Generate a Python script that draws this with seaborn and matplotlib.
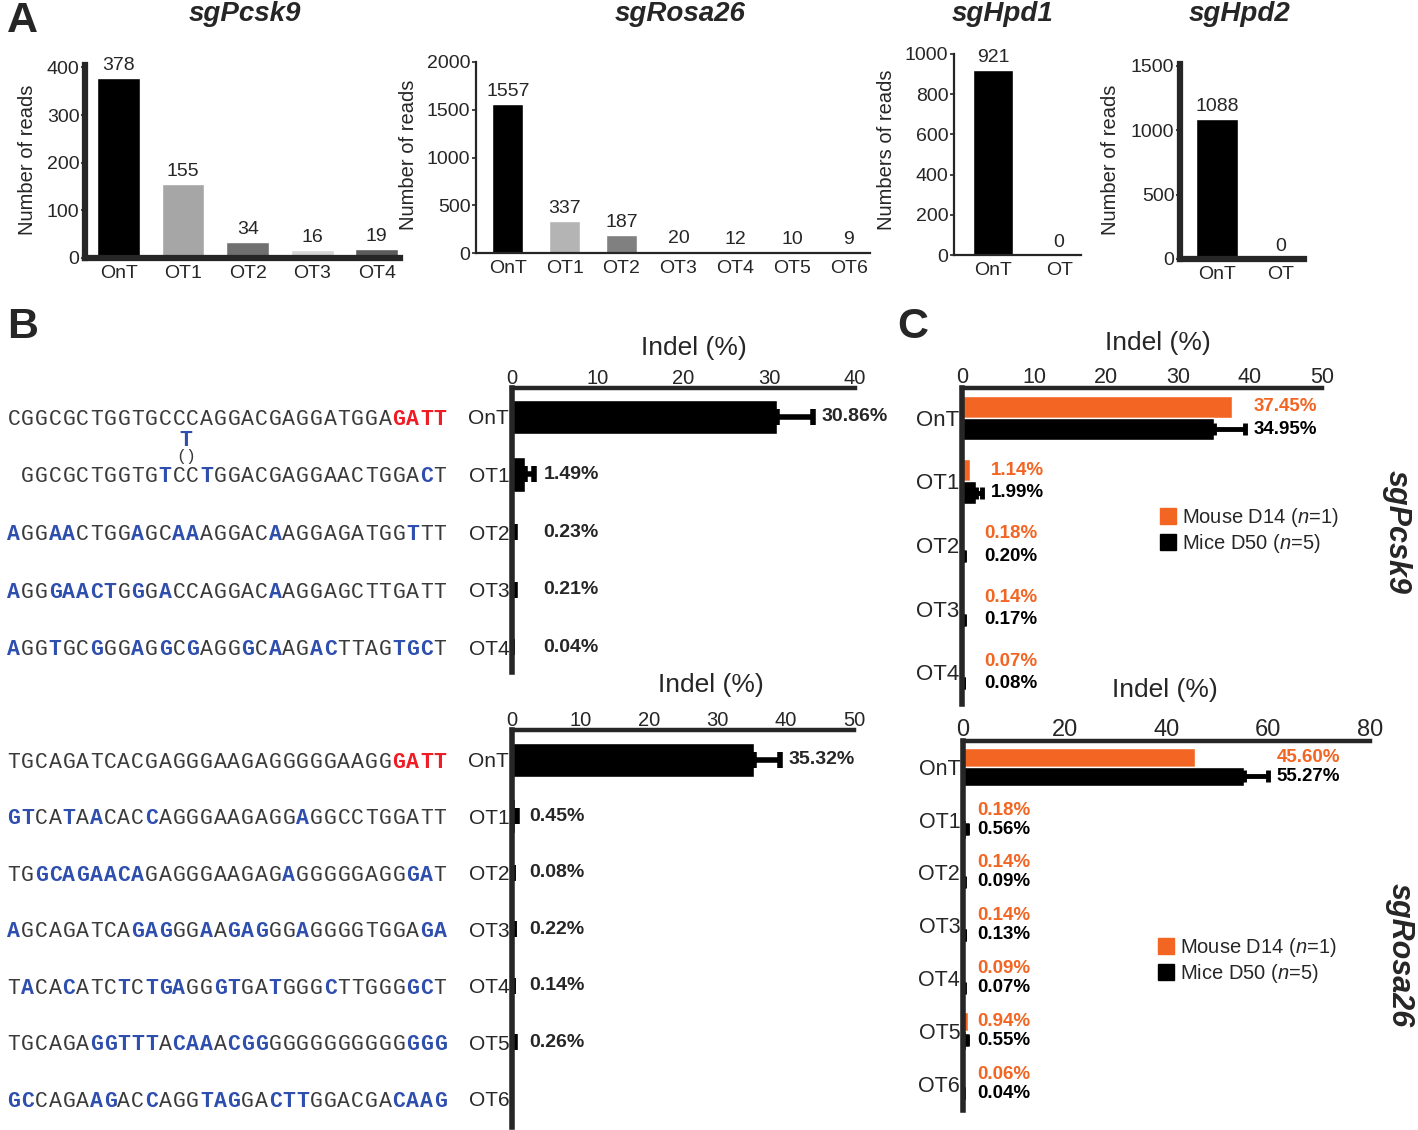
import numpy as np
import pandas as pd
import seaborn as sns
import matplotlib.pyplot as plt
from matplotlib import transforms
from matplotlib.lines import Line2D

W, H = 1418, 1130

# ---- A: number of reads per site
pcsk9_sites = ["OnT", "OT1", "OT2", "OT3", "OT4"]
pcsk9_reads = [378, 155, 34, 16, 19]
pcsk9_colors = ["#000000", "#a6a6a6", "#707070", "#d6d6d6", "#5c5c5c"]

rosa_sites = ["OnT", "OT1", "OT2", "OT3", "OT4", "OT5", "OT6"]
rosa_reads = [1557, 337, 187, 20, 12, 10, 9]
rosa_colors = ["#000000", "#b4b4b4", "#808080", "#9a9a9a", "#9a9a9a", "#9a9a9a", "#9a9a9a"]

hpd_sites = ["OnT", "OT"]
hpd1_reads = [921, 0]
hpd2_reads = [1088, 0]

# ---- B: indel % per site (mean, upper error)
pcsk9_indel = [30.86, 1.49, 0.23, 0.21, 0.04]
pcsk9_indel_err = [4.3, 1.1, 0.1, 0.1, 0.0]
rosa_indel = [35.32, 0.45, 0.08, 0.22, 0.14, 0.26, np.nan]
rosa_indel_err = [3.9, 0.25, 0.05, 0.1, 0.05, 0.15, np.nan]

# target sequences, lower case = PAM (OnT row) or mismatched base
pcsk9_seqs = [
    "CGGCGCTGGTGCCCAGGACGAGGATGGAgatt",
    " GGCGCTGGTGtCCtGGACGAGGAACTGGAcT",
    "aGGaaCTGGaGCaaAGGACaAGGAGATGGtTT",
    "aGGgaactGgGaCCAGGACaAGGAGCTTGATT",
    "aGGtGCgGGaGgCgAGGgCaAGacTTAGtgcT",
]
rosa_seqs = [
    "TGCAGATCACGAGGGAAGAGGGGGAAGGgatt",
    "gtCAtAaCACcAGGGAAGAGGaGGCCTGGATT",
    "TGgcagaacaGAGGGAAGAGaGGGGGAGGgaT",
    "aGCAGATCAgagGGaAgagGGaGGGGTGGAga",
    "TaCAcATCtCtgaGGgtGAtGGGcTTGGGgcT",
    "TGCAGAggtttAcaaAcggGGGGGGGGGGggg",
    "gcCAGAagACcAGGtagGActtGGACGAcaag",
]

# ---- C: indel % D14 (n=1) vs D50 (n=5)
groups = ["Mouse D14", "Mice D50"]
pcsk9_d14 = [37.45, 1.14, 0.18, 0.14, 0.07]
pcsk9_d50 = [34.95, 1.99, 0.20, 0.17, 0.08]
pcsk9_d50_err = [4.4, 0.8, 0.1, 0.05, 0.02]
rosa_d14 = [45.60, 0.18, 0.14, 0.14, 0.09, 0.94, 0.06]
rosa_d50 = [55.27, 0.56, 0.09, 0.13, 0.07, 0.55, 0.04]
rosa_d50_err = [4.7, 0.3, 0.05, 0.05, 0.03, 0.3, 0.02]

ORANGE = "#f26522"
BLUE = "#2f4fae"
RED = "#ee1c24"
SEQ_GREY = "#3a3a3a"

sns.set_style("ticks")
plt.rcParams["font.family"] = ["Liberation Sans", "DejaVu Sans"]
plt.rcParams["mathtext.fontset"] = "custom"
plt.rcParams["mathtext.rm"] = "Liberation Sans"
plt.rcParams["mathtext.it"] = "Liberation Sans:italic"

fig = plt.figure(figsize=(W / 100, H / 100), dpi=100)


def px_axes(l, t, r, b):
    return fig.add_axes([l / W, 1 - b / H, (r - l) / W, (b - t) / H])


def ftext(x, y, s, **kw):
    fig.text(x / W, 1 - y / H, s, **kw)


def reads_panel(box, sites, reads, colors, ymax, ystep, xlim, width, lw):
    ax = px_axes(*box)
    df = pd.DataFrame({"site": sites, "reads": reads})
    sns.barplot(data=df, x="site", y="reads", hue="site", palette=colors, width=width,
                saturation=1, errorbar=None, legend=False, ax=ax)
    for i, v in enumerate(reads):
        ax.annotate(str(v), (i, v), xytext=(0, 3), textcoords="offset points",
                    ha="center", va="bottom", fontsize=14)
    ax.set_xlim(*xlim)
    ax.set_ylim(0, ymax)
    ax.set_yticks(np.arange(0, ymax + 1, ystep))
    ax.set_xlabel("")
    ax.set_ylabel("")
    sns.despine(ax=ax)
    for s in ["left", "bottom"]:
        ax.spines[s].set_linewidth(lw)
    ax.tick_params(axis="y", length=3, width=1.2, pad=1, labelsize=14)
    ax.tick_params(axis="x", length=0, pad=5, labelsize=14)
    return ax


reads_panel((85, 65, 400, 258), pcsk9_sites, pcsk9_reads, pcsk9_colors, 405, 100,
            (-0.52, 4.36), 0.66, 4.5)
reads_panel((476, 62, 870, 253), rosa_sites, rosa_reads, rosa_colors, 2000, 500,
            (-0.56, 6.37), 0.55, 1.6)
reads_panel((954, 54, 1081, 255), hpd_sites, hpd1_reads, ["black", "black"], 1000, 200,
            (-0.59, 1.33), 0.6, 1.6)
reads_panel((1180, 64, 1304, 259), hpd_sites, hpd2_reads, ["black", "black"], 1515, 500,
            (-0.58, 1.36), 0.67, 4.5)

title_kw = dict(fontsize=20, fontweight="bold", style="italic", ha="center", va="center")
ftext(245, 14, "sgPcsk9", **title_kw)
ftext(680, 14, "sgRosa26", **title_kw)
ftext(1003, 14, "sgHpd1", **title_kw)
ftext(1240, 14, "sgHpd2", **title_kw)

ylab_kw = dict(fontsize=14.5, rotation=90, ha="center", va="center")
ftext(28, 160, "Number of reads", **ylab_kw)
ftext(408, 155, "Number of reads", **ylab_kw)
ftext(887, 150, "Numbers of reads", **ylab_kw)
ftext(1110, 160, "Number of reads", **ylab_kw)


def style_hbar(ax, xlim, xticks, ylim, tick_size, cat_size):
    ax.set_xlim(*xlim)
    ax.set_xticks(xticks)
    ax.set_ylim(*ylim)
    ax.xaxis.tick_top()
    ax.set_xlabel("")
    ax.set_ylabel("")
    for s in ["right", "bottom"]:
        ax.spines[s].set_visible(False)
    ax.spines["left"].set_linewidth(4)
    ax.spines["top"].set_linewidth(3.2)
    ax.tick_params(axis="x", length=0, pad=0, labelsize=tick_size)
    ax.tick_params(axis="y", length=0, pad=2, labelsize=cat_size)


def seq_rows(ax, seqs, x0=7, step=13.75):
    trans = transforms.blended_transform_factory(fig.transFigure, ax.transData)
    for row, seq in enumerate(seqs):
        hl_color = RED if row == 0 else BLUE
        for j, ch in enumerate(seq):
            if ch == " ":
                continue
            hl = ch.islower()
            ax.text((x0 + (j + 0.5) * step) / W, row, ch.upper(), transform=trans,
                    ha="center", va="center_baseline", family="Liberation Mono", fontsize=15.5,
                    fontweight="bold" if hl else "normal",
                    color=hl_color if hl else SEQ_GREY)


def indel_panel(box, sites, vals, errs, xlim, xticks, ylim, min_x, seqs):
    ax = px_axes(*box)
    df = pd.DataFrame({"site": sites, "indel": vals})
    sns.barplot(data=df, x="indel", y="site", order=sites, color="black", saturation=1,
                width=0.6, errorbar=None, ax=ax)
    pos = np.arange(len(sites))
    ax.errorbar(vals, pos, xerr=[np.zeros(len(vals)), errs], fmt="none", ecolor="black",
                elinewidth=4, capsize=5.5, capthick=4)
    for i, (v, e) in enumerate(zip(vals, errs)):
        if np.isnan(v):
            continue
        ax.annotate(f"{v:.2f}%", (max(v + e, min_x), i), xytext=(6, 0),
                    textcoords="offset points", ha="left", va="center",
                    fontsize=14, fontweight="bold")
    style_hbar(ax, xlim, xticks, ylim, 14.5, 15)
    seq_rows(ax, seqs)
    return ax


axb1 = indel_panel((512, 388, 855, 672), pcsk9_sites, pcsk9_indel, pcsk9_indel_err,
                   (0, 40), [0, 10, 20, 30, 40], (4.43, -0.5), 2.7, pcsk9_seqs)
indel_panel((512, 730, 854, 1127), rosa_sites, rosa_indel, rosa_indel_err,
            (0, 50), [0, 10, 20, 30, 40, 50], (6.5, -0.53), 1.3, rosa_seqs)

# inserted base above Pcsk9 OT1
ftext(186, 441, "T", fontsize=15.5, family="Liberation Mono", fontweight="bold",
      color=BLUE, ha="center", va="center")
ftext(186, 457, "()", fontsize=12, family="Liberation Mono", color=SEQ_GREY,
      ha="center", va="center")

ftext(694, 348, "Indel (%)", fontsize=19, ha="center", va="center")
ftext(711, 685, "Indel (%)", fontsize=19, ha="center", va="center")


def dual_panel(box, sites, d14, d50, err50, xlim, xticks, ylim, width, min_x,
               legend_xy, tick_size, cat_size):
    ax = px_axes(*box)
    n = len(sites)
    df = pd.DataFrame({"site": sites * 2,
                       "group": [groups[0]] * n + [groups[1]] * n,
                       "indel": d14 + d50})
    sns.barplot(data=df, x="indel", y="site", hue="group", order=sites, hue_order=groups,
                palette=[ORANGE, "black"], width=width, saturation=1, errorbar=None,
                legend=False, ax=ax)
    pos = np.arange(n)
    ax.errorbar(d50, pos + width / 4, xerr=[np.zeros(n), err50], fmt="none",
                ecolor="black", elinewidth=3.5, capsize=4.5, capthick=3.5)
    for i in range(n):
        x = max(d14[i], d50[i] + err50[i], min_x)
        for v, dy, c in [(d14[i], -width / 4, ORANGE), (d50[i], width / 4, "black")]:
            ax.annotate(f"{v:.2f}%", (x, i + dy), xytext=(6, 0), textcoords="offset points",
                        ha="left", va="center", fontsize=13.5, fontweight="bold", color=c)
    style_hbar(ax, xlim, xticks, ylim, tick_size, cat_size)
    handles = [Line2D([], [], marker="s", color=c, linestyle="none", markersize=11)
               for c in [ORANGE, "black"]]
    labels = ["Mouse D14 ($\\mathit{n}$=1)", "Mice D50 ($\\mathit{n}$=5)"]
    ax.legend(handles, labels, loc="upper left",
              bbox_to_anchor=(legend_xy[0] / W, 1 - legend_xy[1] / H),
              bbox_transform=fig.transFigure, frameon=False, fontsize=14.5,
              handlelength=0.8, handletextpad=0.3, borderpad=0, borderaxespad=0,
              labelspacing=0.15)
    return ax


dual_panel((962, 388, 1322, 704), pcsk9_sites, pcsk9_d14, pcsk9_d50, pcsk9_d50_err,
           (0, 50), [0, 10, 20, 30, 40, 50], (4.5, -0.47), 0.7, 1.9, (1160, 506), 15.5, 16)
dual_panel((963, 741, 1370, 1110), rosa_sites, rosa_d14, rosa_d50, rosa_d50_err,
           (0, 80), [0, 20, 40, 60, 80], (6.5, -0.49), 0.72, 1.2, (1158, 936), 17, 15.5)

ftext(1158, 343, "Indel (%)", fontsize=19, ha="center", va="center")
ftext(1165, 690, "Indel (%)", fontsize=19, ha="center", va="center")

side_kw = dict(fontsize=22, fontweight="bold", style="italic", rotation=-90,
               ha="center", va="center")
ftext(1397, 532, "sgPcsk9", **side_kw)
ftext(1400, 955, "sgRosa26", **side_kw)

letter_kw = dict(fontsize=31, fontweight="bold", ha="center", va="center")
ftext(22, 21, "A", **letter_kw)
ftext(23, 327, "B", **letter_kw)
ftext(913, 327, "C", **letter_kw)

fig.savefig("out.png", dpi=100)
